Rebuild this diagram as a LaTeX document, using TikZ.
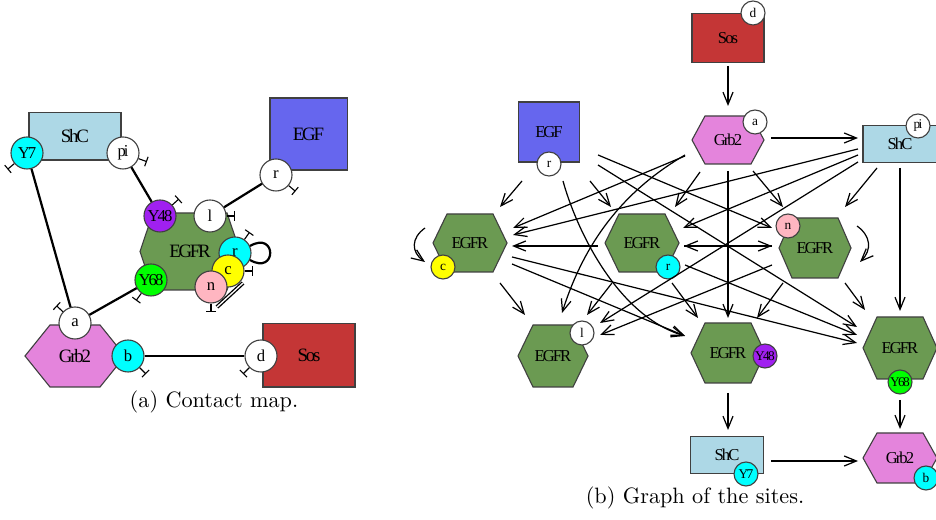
\documentclass[tikz,border=0pt]{standalone}
\usepackage{fontspec}
\newfontfamily\dotfont[LetterSpace=-12]{Liberation Serif}
\usetikzlibrary{arrows.meta}

\definecolor{shcblue}{RGB}{173,216,230}
\definecolor{egfblue}{RGB}{102,102,238}
\definecolor{egfrgreen}{RGB}{107,154,82}
\definecolor{grborchid}{RGB}{228,132,220}
\definecolor{sosred}{RGB}{196,54,54}
\definecolor{sitepurple}{RGB}{160,32,240}
\definecolor{sitepink}{RGB}{255,182,193}
\definecolor{sitecyan}{RGB}{0,255,255}
\definecolor{siteyellow}{RGB}{255,255,0}
\definecolor{sitegreen}{RGB}{0,255,0}

\tikzset{
  x=0.45pt, y=0.45pt,
  outline/.style={draw=black!75, line width=0.5pt},
  bigname/.style={font=\dotfont\fontsize{8.5}{9}\selectfont, inner sep=0pt},
  smallname/.style={font=\dotfont\fontsize{7.5}{8}\selectfont, inner sep=0pt},
  bigbox/.style={outline, rectangle, bigname},
  smallbox/.style={outline, rectangle, smallname},
  bigsite/.style={outline, circle, inner sep=0pt, minimum size=14.4pt,
    font=\dotfont\fontsize{7.5}{8}\selectfont},
  smallsite/.style={outline, circle, inner sep=0pt, minimum size=10.8pt,
    font=\dotfont\fontsize{6}{7}\selectfont},
  link/.style={line width=1pt},
  stub/.style={line width=0.5pt, -{Bar[width=4.5pt]}},
  flow/.style={line width=0.55pt, -{Straight Barb[length=5.5pt,width=4.5pt]}},
  subcap/.style={font=\normalsize, inner sep=0pt}
}

% hexagon agent: name, x, y, half width, half top width, half height, fill, text style, text
\newcommand\hexagent[9]{%
  \filldraw[outline,fill=#7] (#2-#4,#3) -- (#2-#5,#3+#6) -- (#2+#5,#3+#6)
    -- (#2+#4,#3) -- (#2+#5,#3-#6) -- (#2-#5,#3-#6) -- cycle;
  \node[#8] (#1) at (#2,#3) {#9};}

\begin{document}
\begin{tikzpicture}
  \useasboundingbox (0,0) rectangle (936,520);

  % (a) contact map
  \node[bigbox, fill=shcblue, minimum width=41.4pt, minimum height=21.2pt] (shcA) at (75,383.5) {ShC};
  \node[bigbox, fill=egfblue, minimum width=34.7pt, minimum height=32.4pt] (egfA) at (308.5,386) {EGF};
  \node[bigbox, fill=sosred, minimum width=41.4pt, minimum height=28.4pt] (sosA) at (309,164.5) {Sos};
  \hexagent{egfrA}{190}{268.5}{50}{37}{38.5}{egfrgreen}{bigname}{EGFR}
  \hexagent{grbA}{75}{164}{50}{25}{31}{grborchid}{bigname}{Grb2}

  \node[bigsite, fill=sitecyan] (y7A) at (27,367) {Y7};
  \node[bigsite, fill=white] (piA) at (123,367) {pi};
  \node[bigsite, fill=white] (rEgfA) at (276,345) {r};
  \node[bigsite, fill=sitepurple] (y48A) at (160,304) {Y48};
  \node[bigsite, fill=white] (lA) at (210,304) {l};
  \node[bigsite, fill=sitecyan] (rA) at (235,267) {r};
  \node[bigsite, fill=siteyellow] (cA) at (228,249) {c};
  \node[bigsite, fill=sitepink] (nA) at (211,233) {n};
  \node[bigsite, fill=sitegreen] (y68A) at (151,240) {Y68};
  \node[bigsite, fill=white] (aA) at (75,197) {a};
  \node[bigsite, fill=sitecyan] (bA) at (128,164) {b};
  \node[bigsite, fill=white] (dA) at (261,164) {d};

  \draw[link] (y7A) -- (aA);
  \draw[link] (piA) -- (y48A);
  \draw[link] (lA) -- (rEgfA);
  \draw[link] (y68A) -- (aA);
  \draw[link] (bA) -- (dA);
  \draw[link] (rA.25) .. controls +(30:14pt) and +(-30:14pt) .. (rA.-25);
  \draw[line width=0.6pt, double, double distance=0.6pt]
    ([shift={(6,-20)}]nA.center) -- ([shift={(15,-12)}]cA.center);

  \draw[stub] (y7A.220) -- ++(220:4pt);
  \draw[stub] (piA.340) -- ++(340:4pt);
  \draw[stub] (rEgfA.320) -- ++(320:4pt);
  \draw[stub] (y48A.42) -- ++(42:4pt);
  \draw[stub] (lA.0) -- ++(0:4pt);
  \draw[stub] (rA.55) -- ++(55:4pt);
  \draw[stub] (cA.0) -- ++(0:4pt);
  \draw[stub] (nA.270) -- ++(270:4pt);
  \draw[stub] (y68A.234) -- ++(234:4pt);
  \draw[stub] (aA.137) -- ++(137:4pt);
  \draw[stub] (bA.315) -- ++(315:4pt);
  \draw[stub] (dA.225) -- ++(225:4pt);

  \node[subcap] (capA) at (214,118) {(a) Contact map.};

  % (b) graph of the sites
  \node[smallbox, fill=sosred, minimum width=32.4pt, minimum height=22pt] (sosB) at (728,482) {Sos};
  \node[smallbox, fill=egfblue, minimum width=27.5pt, minimum height=27pt] (egfB) at (549,388) {EGF};
  \node[smallbox, fill=shcblue, minimum width=33.3pt, minimum height=16.7pt] (shcB) at (900,376) {ShC};
  \node[smallbox, fill=shcblue, minimum width=32.9pt, minimum height=16.7pt] (y7B) at (727,65) {ShC};
  \hexagent{grbB}{728}{380}{36}{23}{24}{grborchid}{smallname}{Grb2}
  \hexagent{cB}{470}{277}{37}{23}{29}{egfrgreen}{smallname}{EGFR}
  \hexagent{rB}{642}{277}{37}{23}{29}{egfrgreen}{smallname}{EGFR}
  \hexagent{nB}{815}{272}{36}{23}{30}{egfrgreen}{smallname}{EGFR}
  \hexagent{lB}{553}{164}{35}{20}{31}{egfrgreen}{smallname}{EGFR}
  \hexagent{y48B}{728}{167}{37}{23}{30}{egfrgreen}{smallname}{EGFR}
  \hexagent{y68B}{900}{172}{37}{23}{31}{egfrgreen}{smallname}{EGFR}
  \hexagent{bB}{900}{62}{37}{23}{25}{grborchid}{smallname}{Grb2}

  \node[smallsite, fill=white] (dS) at (753,507) {d};
  \node[smallsite, fill=white] (rEgfS) at (549,356) {r};
  \node[smallsite, fill=white] (aS) at (755,398) {a};
  \node[smallsite, fill=white] (piS) at (918,394) {pi};
  \node[smallsite, fill=siteyellow] (cS) at (443,253) {c};
  \node[smallsite, fill=sitecyan] (rS) at (668,253) {r};
  \node[smallsite, fill=sitepink] (nS) at (788,294) {n};
  \node[smallsite, fill=white] (lS) at (582,187) {l};
  \node[smallsite, fill=sitepurple] (y48S) at (765,164) {Y48};
  \node[smallsite, fill=sitegreen] (y68S) at (900,138) {Y68};
  \node[smallsite, fill=sitecyan] (y7S) at (746,46) {Y7};
  \node[smallsite, fill=sitecyan] (bS) at (926,42) {b};

  \draw[flow] ([shift={(0,-28)}]sosB.center) -- ([shift={(0,34)}]grbB.center);
  \draw[flow] ([shift={(43,2)}]grbB.center) -- ([shift={(-42,6)}]shcB.center);
  \draw[flow] ([shift={(25,-31)}]grbB.center) -- ([shift={(-32,41)}]nB.center);
  \draw[flow] ([shift={(0,-31)}]grbB.center) -- ([shift={(0,35)}]y48B.center);
  \draw[flow] ([shift={(-43,-16)}]grbB.center) -- ([shift={(43,15)}]cB.center);
  \draw[flow] ([shift={(-28,-32)}]grbB.center) -- ([shift={(33,36)}]rB.center);
  \draw[flow] ([shift={(-43,-15)}]grbB.center) .. controls +(-60,-35) and +(23,73) .. ([shift={(9,43)}]lB.center);
  \draw[flow] ([shift={(-27,-49)}]egfB.center) -- ([shift={(30,36)}]cB.center);
  \draw[flow] ([shift={(41,-49)}]egfB.center) -- ([shift={(-31,36)}]rB.center);
  \draw[flow] ([shift={(49,-23)}]egfB.center) -- ([shift={(-43,20)}]nB.center);
  \draw[flow] ([shift={(49,-33)}]egfB.center) -- ([shift={(-43,21)}]y68B.center);
  \draw[flow] ([shift={(14,-49)}]egfB.center) .. controls +(12,-44) and +(-70,21) .. ([shift={(-43,17)}]y48B.center);
  \draw[flow] ([shift={(-42,-5)}]shcB.center) -- ([shift={(43,8)}]cB.center);
  \draw[flow] ([shift={(-42,-11)}]shcB.center) -- ([shift={(41,15)}]rB.center);
  \draw[flow] ([shift={(-42,-18)}]shcB.center) -- ([shift={(47,33)}]lB.center);
  \draw[flow] ([shift={(-23,-24)}]shcB.center) -- ([shift={(30,41)}]nB.center);
  \draw[flow] ([shift={(0,-24)}]shcB.center) -- ([shift={(0,37)}]y68B.center);
  \draw[flow] ([shift={(-44,-3)}]rB.center) -- ([shift={(42,-3)}]cB.center);
  \draw[flow] ([shift={(42,-3)}]rB.center) -- ([shift={(-43,2)}]nB.center);
  \draw[flow] ([shift={(-43,2)}]nB.center) -- ([shift={(42,-3)}]rB.center);
  \draw[flow] ([shift={(30,-40)}]cB.center) -- ([shift={(-28,41)}]lB.center);
  \draw[flow] ([shift={(42,-21)}]cB.center) -- ([shift={(-43,17)}]y48B.center);
  \draw[flow] ([shift={(42,-14)}]cB.center) -- ([shift={(-43,5)}]y68B.center);
  \draw[flow] ([shift={(-30,-40)}]rB.center) -- ([shift={(34,41)}]lB.center);
  \draw[flow] ([shift={(30,-40)}]rB.center) -- ([shift={(-30,35)}]y48B.center);
  \draw[flow] ([shift={(43,-22)}]rB.center) -- ([shift={(-43,13)}]y68B.center);
  \draw[flow] ([shift={(-43,-17)}]nB.center) -- ([shift={(47,21)}]lB.center);
  \draw[flow] ([shift={(-32,-35)}]nB.center) -- ([shift={(29,35)}]y48B.center);
  \draw[flow] ([shift={(30,-35)}]nB.center) -- ([shift={(-35,38)}]y68B.center);
  \draw[flow] ([shift={(0,-40)}]y48B.center) -- ([shift={(1,25)}]y7B.center);
  \draw[flow] ([shift={(0,-52)}]y68B.center) -- ([shift={(0,29)}]bB.center);
  \draw[flow] ([shift={(44,-6)}]y7B.center) -- ([shift={(-42,-3)}]bB.center);
  \draw[flow] ([shift={(-45,15)}]cB.center) .. controls +(-14,-10) and +(-14,10) .. ([shift={(-45,-19)}]cB.center);
  \draw[flow] ([shift={(42,22)}]nB.center) .. controls +(14,-10) and +(12,12) .. ([shift={(45,-14)}]nB.center);

  \node[subcap] (capB) at (695,22) {(b) Graph of the sites.};
\end{tikzpicture}
\end{document}
